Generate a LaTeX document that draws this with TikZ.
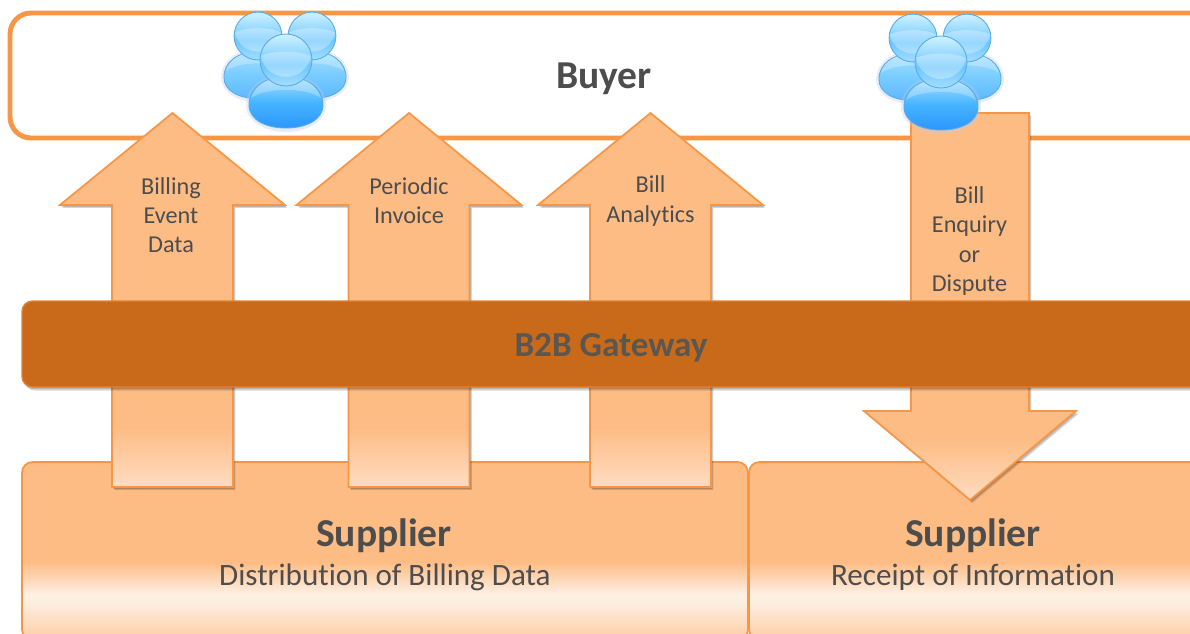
\documentclass[tikz,border=0pt]{standalone}
\usepackage{fontspec}
\setmainfont{Carlito}[Ligatures=NoCommon]

\definecolor{lineOrange}{HTML}{F79646}
\definecolor{mainOrange}{HTML}{FDBC84}
\definecolor{paleOrange}{HTML}{FFDCC2}
\definecolor{gatewayBrown}{HTML}{C86A1A}
\definecolor{gatewayText}{HTML}{5C5651}
\definecolor{textGray}{HTML}{4D4D4D}
\definecolor{headTop}{HTML}{D0F2FF}
\definecolor{headMid}{HTML}{6CC6FF}
\definecolor{headLow}{HTML}{A4DEFF}
\definecolor{bodyTop}{HTML}{A8E0FF}
\definecolor{bodyMid}{HTML}{45B4FF}
\definecolor{bodyLow}{HTML}{2C96FF}
\definecolor{backMid}{HTML}{78CCFF}
\definecolor{backLow}{HTML}{5CB8FF}
\definecolor{personEdge}{HTML}{58ACE8}

\pgfdeclareverticalshading{arrowfade}{100bp}{color(0bp)=(paleOrange); color(25bp)=(paleOrange); color(33bp)=(mainOrange); color(100bp)=(mainOrange)}
\pgfdeclareverticalshading{supplierfade}{100bp}{color(0bp)=(mainOrange!75!white); color(25bp)=(mainOrange!75!white); color(36bp)=(lineOrange!15!white); color(38bp)=(lineOrange!15!white); color(47bp)=(mainOrange); color(100bp)=(mainOrange)}
\pgfdeclareverticalshading{headfade}{100bp}{color(0bp)=(headLow); color(25bp)=(headLow); color(45bp)=(headMid); color(75bp)=(headTop); color(100bp)=(headTop)}
\pgfdeclareverticalshading{bodyfade}{100bp}{color(0bp)=(bodyLow); color(25bp)=(bodyLow); color(50bp)=(bodyMid); color(75bp)=(bodyTop); color(100bp)=(bodyTop)}
\pgfdeclareverticalshading{backfade}{100bp}{color(0bp)=(backLow); color(25bp)=(backLow); color(50bp)=(backMid); color(75bp)=(bodyTop); color(100bp)=(bodyTop)}

% outlines of the big arrows
\newcommand{\upArrow}[1]{(#1,113) -- (#1+112.5,205) -- (#1+60.5,205) -- (#1+60.5,487) -- (#1-60.5,487) -- (#1-60.5,205) -- (#1-112.5,205) -- cycle}
\newcommand{\downArrow}{(911,113) -- (1029,113) -- (1029,411) -- (1076,411) -- (970,500) -- (864,411) -- (911,411) -- cycle}
\newcommand{\gatewayBand}{(22,301) rectangle (1230,387)}

\tikzset{
	arrowbox/.style={draw=lineOrange, line width=1pt, line join=miter, shade, shading=arrowfade},
	softshadow/.style={fill=black, opacity=0.16},
	supplierbox/.style={draw=lineOrange, line width=1pt, rounded corners=6pt, shade, shading=supplierfade},
	arrowtext/.style={text=textGray, font=\fontsize{13.8}{16.6}\selectfont, align=center, inner sep=0pt},
	titletext/.style={text=textGray, font=\fontsize{22.5}{24}\selectfont\bfseries, inner sep=0pt},
	subtext/.style={text=textGray, font=\fontsize{17.7}{20}\selectfont, inner sep=0pt},
	personpart/.style={draw=personEdge, line width=0.5pt},
	pics/person/.style={code={
		\fill[cyan!40!blue!25!white, opacity=0.35] (-40,45) .. controls (-40,26) and (-22,14) .. (0,14) .. controls (22,14) and (40,26) .. (40,45) .. controls (40,62) and (20,72) .. (0,72) .. controls (-20,72) and (-40,62) .. (-40,45) -- cycle;
		\path[personpart, shade, shading=#1] (-37,45) .. controls (-37,28) and (-22,17) .. (0,17) .. controls (22,17) and (37,28) .. (37,45) .. controls (37,60) and (20,68) .. (0,68) .. controls (-20,68) and (-37,60) .. (-37,45) -- cycle;
		\fill[white, opacity=0.25] (-35,38) .. controls (-30,24) and (-18,17) .. (0,17) .. controls (18,17) and (30,24) .. (35,38) .. controls (20,27) and (-20,27) .. (-35,38) -- cycle;
		\path[personpart, shade, shading=headfade] (0,0) circle (26);
		\fill[white, opacity=0.3] (-25,-4) arc[start angle=170, end angle=10, radius=25.4] .. controls (12,-10) and (-12,-10) .. (-25,-4) -- cycle;
	}}
}

\begin{document}
\begin{tikzpicture}[x=0.02cm, y=-0.02cm]
	\useasboundingbox (0,0) rectangle (1190,633);
	\clip (0,0) rectangle (1190,633);

	% buyer band
	\draw[lineOrange, line width=2.8pt, rounded corners=12pt, fill=white] (10,13) rectangle (1230,138);
	\node[titletext] (buyer) at (604,79) {Buyer};

	% supplier boxes
	\path[supplierbox] (22,462) rectangle (748,640);
	\path[supplierbox] (749,462) rectangle (1230,640);
	\node[titletext] (supplierLeft) at (384,536) {Supplier};
	\node[subtext] (distribution) at (385,577) {Distribution of Billing Data};
	\node[titletext] (supplierRight) at (973,536) {Supplier};
	\node[subtext] (receipt) at (973,577) {Receipt of Information};

	% up arrows
	\foreach \midX in {172.5,409,650.5} {
		\fill[softshadow, xshift=0.8pt, yshift=-1pt] \upArrow{\midX};
		\fill[softshadow, xshift=1.3pt, yshift=-1.7pt] \upArrow{\midX};
		\path[arrowbox] \upArrow{\midX};
	}

	% down arrow
	\fill[softshadow, xshift=0.8pt, yshift=-1pt] \downArrow;
	\fill[softshadow, xshift=1.3pt, yshift=-1.7pt] \downArrow;
	\path[arrowbox] \downArrow;

	\node[arrowtext] (billingEvent) at (171,215) {Billing\\Event\\Data};
	\node[arrowtext] (periodic) at (409,201) {Periodic\\Invoice};
	\node[arrowtext] (analytics) at (650.5,201) {Bill\\Analytics};
	\node[arrowtext] (enquiry) at (969.5,241) {Bill\\Enquiry\\or\\Dispute};

	% gateway band
	\fill[softshadow, rounded corners=6pt, xshift=0.8pt, yshift=-1.2pt] \gatewayBand;
	\fill[softshadow, rounded corners=6pt, xshift=1.3pt, yshift=-2pt] \gatewayBand;
	\fill[gatewayBrown, draw=lineOrange!55!gatewayBrown, line width=0.8pt, rounded corners=6pt] \gatewayBand;
	\node[text=gatewayText, font=\fontsize{20}{22}\selectfont\bfseries, inner sep=0pt] (gateway) at (611,348) {B2B Gateway};

	% people on the buyer band
	\foreach \headX/\headY in {286/60,941/62} {
		\pic[scale=0.92] at (\headX-28,\headY-24) {person=backfade};
		\pic[scale=0.92] at (\headX+26,\headY-24) {person=backfade};
		\pic at (\headX,\headY) {person=bodyfade};
	}
\end{tikzpicture}
\end{document}
